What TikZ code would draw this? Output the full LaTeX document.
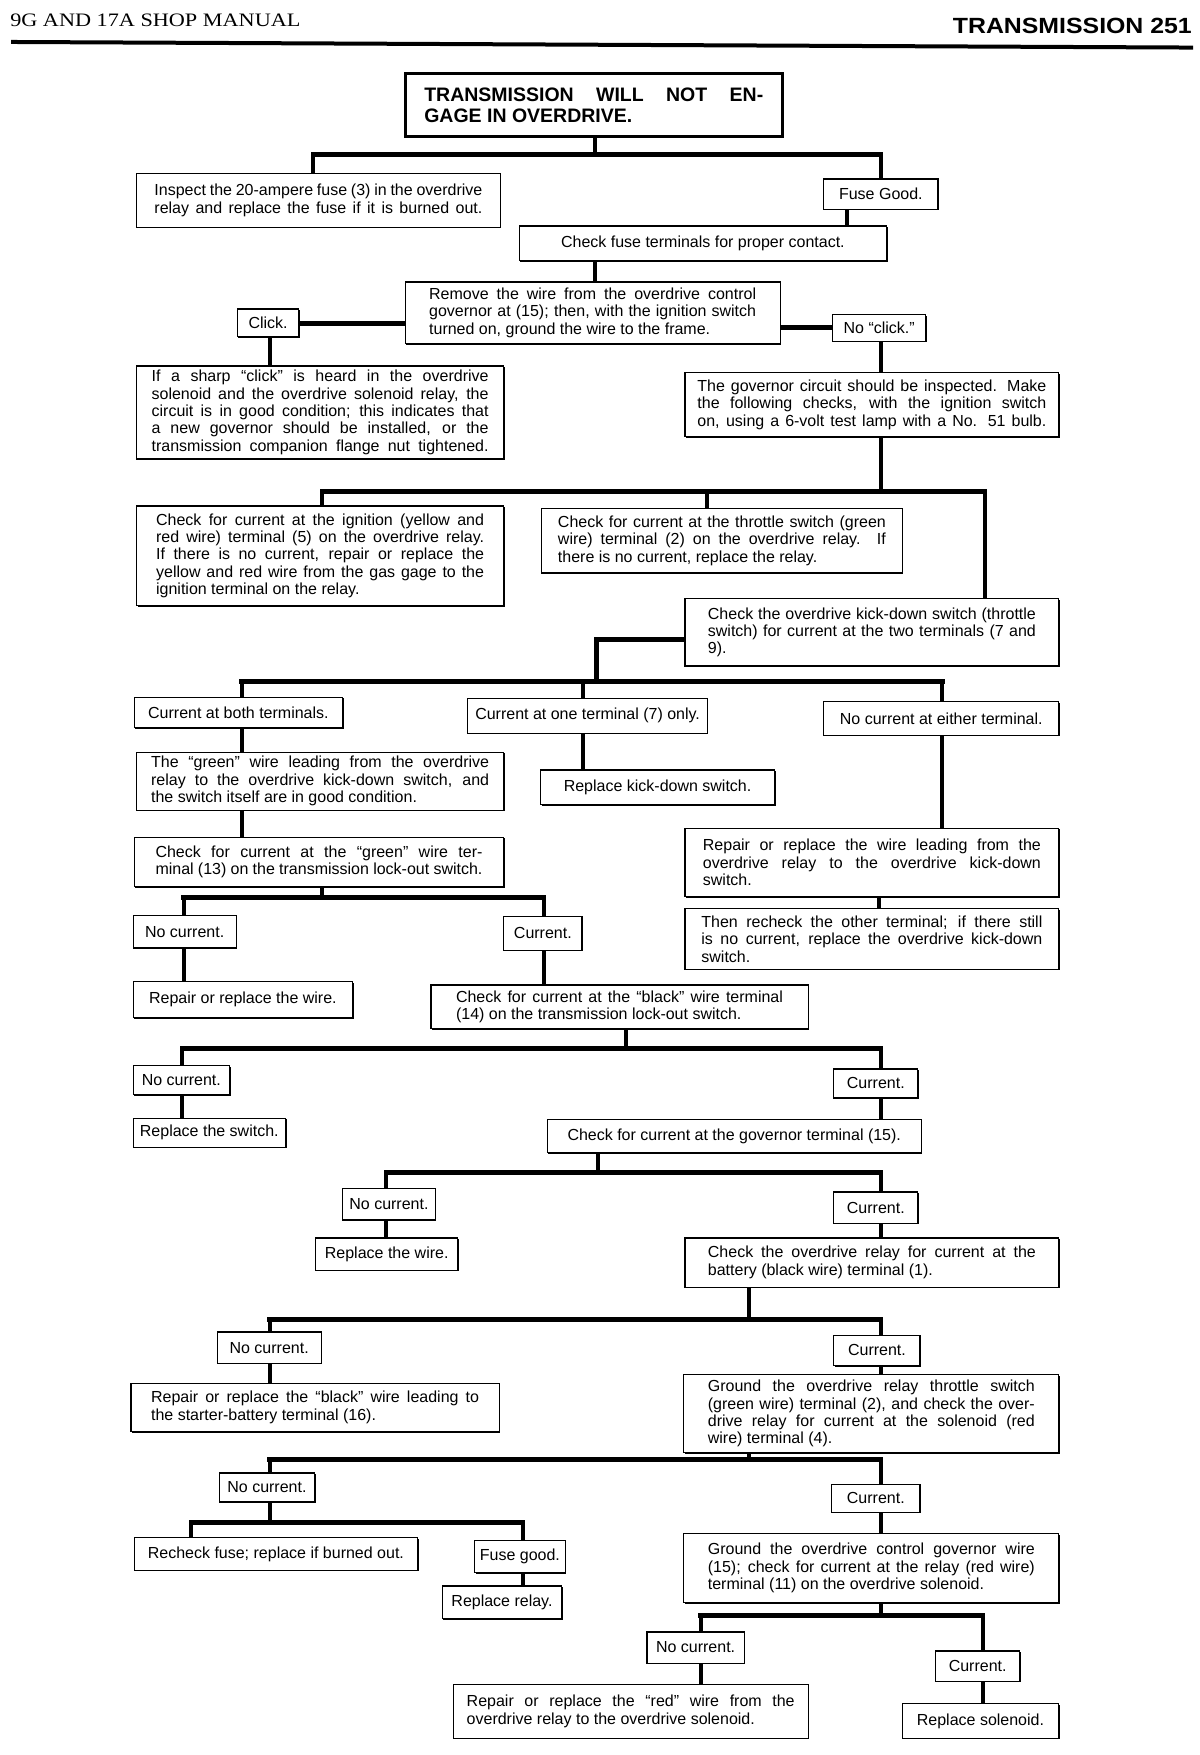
\documentclass[tikz,border=0pt]{standalone}
\usepackage{fontspec}
\setmainfont{Liberation Sans}
\newfontfamily\hdrserif{Liberation Serif}
\usetikzlibrary{shadows}
\pgfdeclarelayer{bg}
\pgfsetlayers{bg,main}
\newcommand\J[2]{\makebox[#1pt][s]{#2}}
\newcommand\bx[7][]{%
  \pgfmathsetmacro\bxw{(#5-#3)*1.1194}%
  \pgfmathsetmacro\bxh{(#6-#4)*1.1194}%
  \node[box,#1,minimum width=\bxw pt,minimum height=\bxh pt] (#2) at ({(#3+#5)/2},{(#4+#6)/2}) {#7};}
\begin{document}
\begin{tikzpicture}[x=1.1194pt,y=-1.1194pt,
  font=\fontsize{16}{17.4}\selectfont,
  box/.style={draw,fill=white,line width=1.2pt,inner sep=0pt,align=left,
    drop shadow={opacity=1,fill=black,shadow xshift=1.1pt,shadow yshift=-1.1pt}},
  titlebox/.style={line width=3pt,font=\bfseries\fontsize{19.5}{20.5}\selectfont},
  conn/.style={line width=4pt},
  bar/.style={line width=5pt,line cap=rect}]
\useasboundingbox (0,0) rectangle (1072,1568);
% header
\node[anchor=base west,inner sep=0pt,font=\hdrserif\fontsize{19}{20}\selectfont] (hdrL) at (9,24.1) {\scalebox{1.17}[1]{9G AND 17A SHOP MANUAL}};
\node[anchor=base east,inner sep=0pt,font=\bfseries\fontsize{22}{23}\selectfont] (hdrR) at (1065,29.5) {\scalebox{1.13}[1]{TRANSMISSION 251}};
\draw[line width=4pt] (10,37.5) -- (1066,42.5);

% boxes
\bx[titlebox]{title}{362}{66}{699}{122}{\J{339}{TRANSMISSION WILL NOT EN-}\\GAGE IN OVERDRIVE.}
\bx{inspect}{122}{155}{447}{203}{\J{328}{Inspect the 20-ampere fuse (3) in the overdrive}\\\J{328}{relay and replace the fuse if it is burned out.}}
\bx{fusegood}{736}{160}{838}{187}{Fuse Good.}
\bx{checkfuse}{464}{202}{792}{233}{Check fuse terminals for proper contact.}
\bx{remove}{362}{252}{697}{307}{\J{327}{Remove the wire from the overdrive control}\\\J{327}{governor at (15); then, with the ignition switch}\\turned on, ground the wire to the frame.}
\bx{click}{212}{276}{267}{301}{Click.}
\bx{noclick}{744}{281}{827}{305}{No ``click.''}
\bx{sharp}{122}{327}{450}{410}{\J{337}{If a sharp ``click'' is heard in the overdrive}\\\J{337}{solenoid and the overdrive solenoid relay, the}\\\J{337}{circuit is in good condition; this indicates that}\\\J{337}{a new governor should be installed, or the}\\\J{337}{transmission companion flange nut tightened.}}
\bx{gov}{612}{333}{946}{390}{\J{349}{The governor circuit should be inspected. Make}\\\J{349}{the following checks, with the ignition switch}\\\J{349}{on, using a 6-volt test lamp with a No. 51 bulb.}}
\bx{ign}{122}{452}{450}{541}{\J{328}{Check for current at the ignition (yellow and}\\\J{328}{red wire) terminal (5) on the overdrive relay.}\\\J{328}{If there is no current, repair or replace the}\\\J{328}{yellow and red wire from the gas gage to the}\\ignition terminal on the relay.}
\bx{thr}{484}{454}{806}{512}{\J{328}{Check for current at the throttle switch (green}\\\J{328}{wire) terminal (2) on the overdrive relay. If}\\there is no current, replace the relay.}
\bx{kick}{612}{535}{946}{595}{\J{328}{Check the overdrive kick-down switch (throttle}\\\J{328}{switch) for current at the two terminals (7 and}\\9).}
\bx{both}{120}{623}{306}{650}{Current at both terminals.}
\bx{one}{418}{624}{632}{655}{Current at one terminal (7) only.}
\bx{either}{736}{627}{946}{657}{No current at either terminal.}
\bx{green}{122}{672}{450}{724}{\J{338}{The ``green'' wire leading from the overdrive}\\\J{338}{relay to the overdrive kick-down switch, and}\\the switch itself are in good condition.}
\bx{repkick}{483}{688}{692}{719}{Replace kick-down switch.}
\bx{repwire}{612}{740}{946}{801}{\J{338}{Repair or replace the wire leading from the}\\\J{338}{overdrive relay to the overdrive kick-down}\\switch.}
\bx{recheck}{612}{812}{946}{866}{\J{341}{Then recheck the other terminal; if there still}\\\J{341}{is no current, replace the overdrive kick-down}\\switch.}
\bx{chkgreen}{120}{748}{450}{792}{\J{327}{Check for current at the ``green'' wire ter-}\\\J{327}{minal (13) on the transmission lock-out switch.}}
\bx{nca}{119}{818}{211}{847}{No current.}
\bx{ca}{450}{819}{520}{849}{Current.}
\bx{repwa}{119}{877}{315}{909}{Repair or replace the wire.}
\bx{black}{385}{880}{722}{919}{\J{327}{Check for current at the ``black'' wire terminal}\\(14) on the transmission lock-out switch.}
\bx{ncb}{119}{952}{205}{978}{No current.}
\bx{cb}{745}{955}{820}{981}{Current.}
\bx{repsw}{119}{999}{255}{1025}{Replace the switch.}
\bx{govterm}{489}{1000}{823}{1030}{Check for current at the governor terminal (15).}
\bx{ncc}{306}{1062}{389}{1090}{No current.}
\bx{cc}{745}{1065}{820}{1093}{Current.}
\bx{repwb}{282}{1106}{409}{1135}{Replace the wire.}
\bx{relay}{612}{1106}{946}{1150}{\J{328}{Check the overdrive relay for current at the}\\battery (black wire) terminal (1).}
\bx{ncd}{194}{1190}{287}{1218}{No current.}
\bx{cd}{745}{1193}{822}{1220}{Current.}
\bx{repblack}{117}{1236}{446}{1279}{\J{328}{Repair or replace the ``black'' wire leading to}\\the starter-battery terminal (16).}
\bx{groundrelay}{611}{1228}{946}{1298}{\J{327}{Ground the overdrive relay throttle switch}\\\J{327}{(green wire) terminal (2), and check the over-}\\\J{327}{drive relay for current at the solenoid (red}\\wire) terminal (4).}
\bx{nce}{196}{1316}{281}{1342}{No current.}
\bx{ce}{743}{1326}{822}{1351}{Current.}
\bx{refuse}{120}{1374}{373}{1403}{Recheck fuse; replace if burned out.}
\bx{fuse2}{424}{1376}{505}{1405}{Fuse good.}
\bx{reprelay}{395}{1417}{502}{1446}{Replace relay.}
\bx{groundgov}{611}{1370}{946}{1432}{\J{327}{Ground the overdrive control governor wire}\\\J{327}{(15); check for current at the relay (red wire)}\\terminal (11) on the overdrive solenoid.}
\bx{ncf}{578}{1458}{665}{1486}{No current.}
\bx{cf}{836}{1475}{911}{1502}{Current.}
\bx{repred}{405}{1505}{722}{1553}{\J{328}{Repair or replace the ``red'' wire from the}\\overdrive relay to the overdrive solenoid.}
\bx{repsol}{806}{1522}{946}{1553}{Replace solenoid.}

\begin{pgfonlayer}{bg}
% title tree
\coordinate (a0) at (532,138); \coordinate (aL) at (280,138); \coordinate (aR) at (787,138);
\draw[conn] (title.south -| a0) -- (a0);
\draw[bar] (aL) -- (aR);
\draw[conn] (aL) -- (aL |- inspect.north);
\draw[conn] (aR) -- (aR |- fusegood.north);
\coordinate (k1) at (757,0);
\draw[conn] (fusegood.south -| k1) -- (checkfuse.north -| k1);
\coordinate (k2) at (532,0);
\draw[conn] (checkfuse.south -| k2) -- (remove.north -| k2);
\coordinate (k3) at (0,289);
\draw[bar] (click.east |- k3) -- (remove.west |- k3);
\coordinate (k4) at (0,293);
\draw[bar] (remove.east |- k4) -- (noclick.west |- k4);
\coordinate (k5) at (241,0);
\draw[conn] (click.south -| k5) -- (sharp.north -| k5);
\coordinate (k6) at (787,0);
\draw[conn] (noclick.south -| k6) -- (gov.north -| k6);
% governor tree
\coordinate (g0) at (787,439); \coordinate (gL) at (288,439); \coordinate (gM) at (632,439); \coordinate (gR) at (880,439);
\draw[conn] (gov.south -| g0) -- (g0);
\draw[bar] (gL) -- (gR);
\draw[conn] (gL) -- (gL |- ign.north);
\draw[conn] (gM) -- (gM |- thr.north);
\draw[conn] (gR) -- (gR |- kick.north);
% kick-down tree
\coordinate (h0) at (533,571); \coordinate (hb) at (533,609);
\coordinate (hL) at (216,609); \coordinate (hM) at (521,609); \coordinate (hR) at (842,609);
\draw[bar,line cap=butt] (kick.west |- h0) -- (h0) -- (hb);
\draw[bar] (hL) -- (hR);
\draw[conn] (hL) -- (hL |- both.north);
\draw[conn] (hM) -- (hM |- one.north);
\draw[conn] (hR) -- (hR |- either.north);
\coordinate (k7) at (216,0);
\draw[conn] (both.south -| k7) -- (green.north -| k7);
\draw[conn] (green.south -| k7) -- (chkgreen.north -| k7);
\coordinate (k8) at (521,0);
\draw[conn] (one.south -| k8) -- (repkick.north -| k8);
\coordinate (k9) at (842,0);
\draw[conn] (either.south -| k9) -- (repwire.north -| k9);
\coordinate (k10) at (785,0);
\draw[conn] (repwire.south -| k10) -- (recheck.north -| k10);
% green terminal tree
\coordinate (m0) at (288,802); \coordinate (mL) at (164,802); \coordinate (mR) at (486,802);
\draw[conn] (chkgreen.south -| m0) -- (m0);
\draw[bar] (mL) -- (mR);
\draw[conn] (mL) -- (mL |- nca.north);
\draw[conn] (mR) -- (mR |- ca.north);
\draw[conn] (nca.south -| mL) -- (repwa.north -| mL);
\draw[conn] (ca.south -| mR) -- (black.north -| mR);
% black terminal tree
\coordinate (n0) at (559,937); \coordinate (nL) at (163,937); \coordinate (nR) at (787,937);
\draw[conn] (black.south -| n0) -- (n0);
\draw[bar] (nL) -- (nR);
\draw[conn] (nL) -- (nL |- ncb.north);
\draw[conn] (nR) -- (nR |- cb.north);
\draw[conn] (ncb.south -| nL) -- (repsw.north -| nL);
\draw[conn] (cb.south -| nR) -- (govterm.north -| nR);
% governor terminal tree
\coordinate (p0) at (534,1048); \coordinate (pL) at (345,1048); \coordinate (pR) at (787,1048);
\draw[conn] (govterm.south -| p0) -- (p0);
\draw[bar] (pL) -- (pR);
\draw[conn] (pL) -- (pL |- ncc.north);
\draw[conn] (pR) -- (pR |- cc.north);
\draw[conn] (ncc.south -| pL) -- (repwb.north -| pL);
\draw[conn] (cc.south -| pR) -- (relay.north -| pR);
% relay tree
\coordinate (q0) at (669,1179); \coordinate (qL) at (241,1179); \coordinate (qR) at (787,1179);
\draw[conn] (relay.south -| q0) -- (q0);
\draw[bar] (qL) -- (qR);
\draw[conn] (qL) -- (qL |- ncd.north);
\draw[conn] (qR) -- (qR |- cd.north);
\draw[conn] (ncd.south -| qL) -- (repblack.north -| qL);
\draw[conn] (cd.south -| qR) -- (groundrelay.north -| qR);
% ground relay tree
\coordinate (r0) at (669,1304); \coordinate (rL) at (241,1304); \coordinate (rR) at (787,1304);
\draw[conn] (groundrelay.south -| r0) -- (r0);
\draw[bar] (rL) -- (rR);
\draw[conn] (rL) -- (rL |- nce.north);
\draw[conn] (rR) -- (rR |- ce.north);
\coordinate (s0) at (241,1360); \coordinate (sL) at (171,1360); \coordinate (sR) at (467,1360);
\draw[conn] (nce.south -| s0) -- (s0);
\draw[bar] (sL) -- (sR);
\draw[conn] (sL) -- (sL |- refuse.north);
\draw[conn] (sR) -- (sR |- fuse2.north);
\draw[conn] (fuse2.south -| sR) -- (reprelay.north -| sR);
\draw[conn] (ce.south -| rR) -- (groundgov.north -| rR);
% ground governor tree
\coordinate (u0) at (787,1443); \coordinate (uL) at (626,1443); \coordinate (uR) at (878,1443);
\draw[conn] (groundgov.south -| u0) -- (u0);
\draw[bar] (uL) -- (uR);
\draw[conn] (uL) -- (uL |- ncf.north);
\draw[conn] (uR) -- (uR |- cf.north);
\draw[conn] (ncf.south -| uL) -- (repred.north -| uL);
\draw[conn] (cf.south -| uR) -- (repsol.north -| uR);
\end{pgfonlayer}
\end{tikzpicture}
\end{document}
